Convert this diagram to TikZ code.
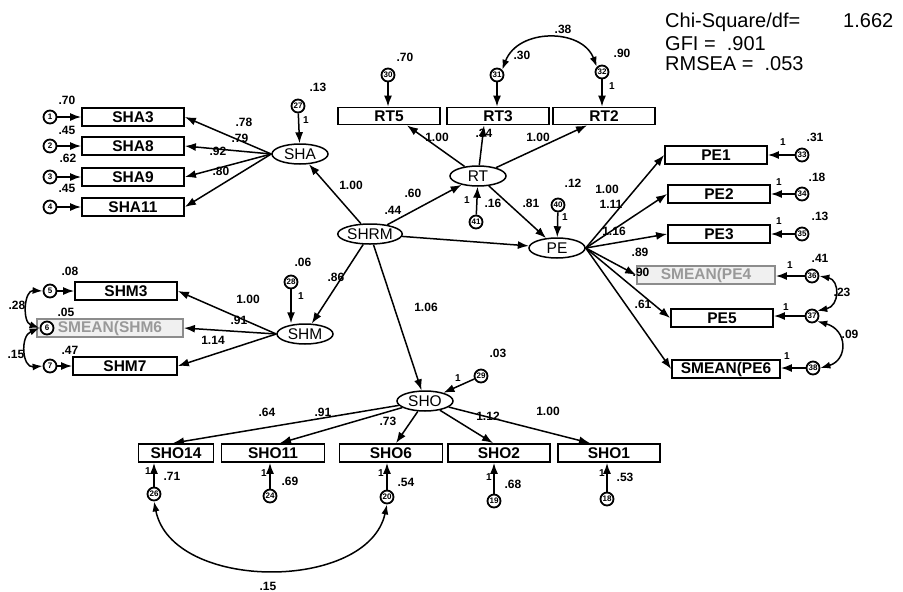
\documentclass[tikz,border=0pt]{standalone}
\usepackage{fontspec}
\setmainfont{Liberation Sans}
\usetikzlibrary{arrows.meta,shapes.geometric}
\begin{document}
\begin{tikzpicture}[x=1pt,y=-1pt,
  obs/.style={draw,rectangle,line width=1.8pt,minimum height=18pt,inner sep=0pt,font=\fontsize{15.5}{15.5}\selectfont\bfseries},
  fade/.style={obs,draw=black!45,fill=black!6,text=black!40},
  lat/.style={draw,ellipse,line width=1.5pt,minimum width=56pt,minimum height=20pt,inner sep=0pt,font=\fontsize{15.5}{15.5}\selectfont},
  err/.style={draw,circle,line width=1.8pt,minimum size=13pt,inner sep=0pt,fill=white,font=\fontsize{8}{8}\selectfont\bfseries},
  lbl/.style={inner sep=0pt,font=\fontsize{12}{12}\selectfont\bfseries},
  one/.style={inner sep=0pt,font=\fontsize{10}{10}\selectfont\bfseries},
  arr/.style={-{Latex[length=11pt,width=8pt]},line width=1.5pt},
  cov/.style={{Latex[length=10pt,width=7pt]}-{Latex[length=10pt,width=7pt]},line width=1.5pt},
  fitt/.style={inner sep=0pt,anchor=base west,font=\fontsize{20}{20}\selectfont}
]
\useasboundingbox (0,0) rectangle (903,592);

% fit statistics
\node[fitt] (chi) at (665,27) {Chi-Square/df=};
\node[fitt] (chiv) at (843,27) {1.662};
\node[fitt] (gfi) at (665,50) {GFI = \ .901};
\node[fitt] (rmsea) at (665,70) {RMSEA = \ .053};

% latent variables
\node[lat] (shrm) at (370,234) {SHRM};
\node[lat] (sha) at (300,154) {SHA};
\node[lat] (shm) at (305,334) {SHM};
\node[lat] (rt) at (478,176) {RT};
\node[lat] (pe) at (557,248) {PE};
\node[lat] (sho) at (425,401) {SHO};

% SHA block
\node[obs,minimum width=102pt] (sha3) at (133,117) {SHA3};
\node[obs,minimum width=102pt] (sha8) at (133,146) {SHA8};
\node[obs,minimum width=102pt] (sha9) at (133,177) {SHA9};
\node[obs,minimum width=102pt] (sha11) at (133,207) {SHA11};
\node[err] (e1) at (50,117) {1};
\node[err] (e2) at (50,146) {2};
\node[err] (e3) at (50,177) {3};
\node[err] (e4) at (50,207) {4};
\node[err] (e27) at (298,106) {27};
\foreach \e/\b in {e1/sha3,e2/sha8,e3/sha9,e4/sha11} \draw[arr] (\e) -- (\b);
\foreach \b in {sha3,sha8,sha9,sha11} \draw[arr] (sha.west) -- (\b.east);
\draw[arr] (e27) -- (sha);
\node[lbl] (l1) at (67,100) {.70};
\node[lbl] (l2) at (67,130) {.45};
\node[lbl] (l3) at (68,158) {.62};
\node[lbl] (l4) at (67,188) {.45};
\node[lbl] (l5) at (244,122) {.78};
\node[lbl] (l6) at (240,138) {.79};
\node[lbl] (l7) at (218,151) {.92};
\node[lbl] (l8) at (221,171) {.80};
\node[lbl] (l9) at (318,87) {.13};
\node[one] (l10) at (306,120) {1};

% RT block
\node[obs,minimum width=102pt,minimum height=17pt] (rt5) at (389,116) {RT5};
\node[obs,minimum width=102pt,minimum height=17pt] (rt3) at (498,116) {RT3};
\node[obs,minimum width=102pt,minimum height=17pt] (rt2) at (604,116) {RT2};
\node[err] (e30) at (388,75) {30};
\node[err] (e31) at (497,75) {31};
\node[err] (e32) at (602,72) {32};
\node[err] (e41) at (476,222) {41};
\draw[arr] (e30) -- (e30 |- rt5.north);
\draw[arr] (e31) -- (e31 |- rt3.north);
\draw[arr] (e32) -- (e32 |- rt2.north);
\draw[cov] (e31.north east) .. controls (518,28) and (582,28) .. (e32.north west);
\draw[arr] (rt) -- ([xshift=18pt]rt5.south);
\draw[arr] (rt) -- ([xshift=-14pt]rt3.south);
\draw[arr] (rt) -- ([xshift=-17pt]rt2.south);
\draw[arr] (e41) -- (rt);
\node[lbl] (l11) at (405,57) {.70};
\node[lbl] (l12) at (522,55) {.30};
\node[lbl] (l13) at (622,53) {.90};
\node[lbl] (l14) at (563,29) {.38};
\node[one] (l15) at (612,86) {1};
\node[lbl] (l16) at (437,137) {1.00};
\node[lbl] (l17) at (484,133) {.34};
\node[lbl] (l18) at (538,137) {1.00};
\node[lbl] (l19) at (493,203) {.16};
\node[one] (l20) at (467,200) {1};

% structural paths
\draw[arr] (shrm) -- (sha);
\draw[arr] (shrm) -- (rt);
\draw[arr] (shrm) -- (pe);
\draw[arr] (shrm) -- (shm);
\draw[arr] (shrm) -- (sho);
\draw[arr] (rt) -- (pe);
\node[lbl] (l21) at (351,185) {1.00};
\node[lbl] (l22) at (413,193) {.60};
\node[lbl] (l23) at (393,210) {.44};
\node[lbl] (l24) at (336,277) {.86};
\node[lbl] (l25) at (426,307) {1.06};
\node[lbl] (l26) at (531,203) {.81};

% PE block
\node[obs,minimum width=102pt] (pe1) at (716,155) {PE1};
\node[obs,minimum width=102pt] (pe2) at (719,194) {PE2};
\node[obs,minimum width=102pt] (pe3) at (719,234) {PE3};
\node[fade,minimum width=138pt] (pe4) at (706,275) {SMEAN(PE4};
\node[obs,minimum width=102pt] (pe5) at (722,318) {PE5};
\node[obs,minimum width=108pt] (pe6) at (726,369) {SMEAN(PE6};
\node[err] (e40) at (558,205) {40};
\node[err] (e33) at (802,155) {33};
\node[err] (e34) at (802,194) {34};
\node[err] (e35) at (802,234) {35};
\node[err] (e36) at (812,276) {36};
\node[err] (e37) at (812,316) {37};
\node[err] (e38) at (813,368) {38};
\draw[arr] (e40) -- (pe);
\foreach \b in {pe1,pe2,pe3,pe4,pe5,pe6} \draw[arr] (pe.east) -- (\b.west);
\foreach \e/\b in {e33/pe1,e34/pe2,e35/pe3,e36/pe4,e37/pe5,e38/pe6} \draw[arr] (\e) -- (\e -| \b.east);
\draw[cov] (e36.east) .. controls (840,280) and (840,306) .. (e37.north east);
\draw[cov] (e37.south east) .. controls (848,330) and (848,360) .. (e38.east);
\node[lbl] (l27) at (573,183) {.12};
\node[one] (l28) at (565,217) {1};
\node[lbl] (l29) at (607,189) {1.00};
\node[lbl] (l30) at (611,204) {1.11};
\node[lbl] (l31) at (614,231) {1.16};
\node[lbl] (l32) at (640,252) {.89};
\node[lbl] (l33) at (641,272) {.90};
\node[lbl] (l34) at (643,304) {.61};
\node[lbl] (l35) at (815,137) {.31};
\node[lbl] (l36) at (817,177) {.18};
\node[lbl] (l37) at (820,216) {.13};
\node[lbl] (l38) at (820,258) {.41};
\node[lbl] (l39) at (842,292) {.23};
\node[lbl] (l40) at (850,334) {.09};
\node[one] (l41) at (783,142) {1};
\node[one] (l42) at (779,182) {1};
\node[one] (l43) at (779,221) {1};
\node[one] (l44) at (790,265) {1};
\node[one] (l45) at (786,307) {1};
\node[one] (l46) at (787,356) {1};

% SHM block
\node[obs,minimum width=102pt] (shm3) at (126,291) {SHM3};
\node[fade,minimum width=146pt] (shm6) at (110,328) {SMEAN(SHM6};
\node[obs,minimum width=104pt] (shm7) at (125,366) {SHM7};
\node[err] (e28) at (291,282) {28};
\node[err] (e5) at (50,291) {5};
\node[err] (e6) at (47,328) {6};
\node[err] (e7) at (50,366) {7};
\draw[arr] (e28) -- (e28 |- shm.north);
\foreach \b in {shm3,shm6,shm7} \draw[arr] (shm.west) -- (\b.east);
\draw[arr] (e5) -- (shm3);
\draw[arr] (e7) -- (shm7);
\draw[cov] (e5.west) .. controls (24,290) and (22,322) .. (e6.west);
\draw[cov] (e6.west) .. controls (20,336) and (22,368) .. (e7.west);
\node[lbl] (l47) at (303,262) {.06};
\node[one] (l48) at (301,296) {1};
\node[lbl] (l49) at (248,299) {1.00};
\node[lbl] (l50) at (239,320) {.91};
\node[lbl] (l51) at (213,340) {1.14};
\node[lbl] (l52) at (70,271) {.08};
\node[lbl] (l53) at (17,305) {.28};
\node[lbl] (l54) at (66,312) {.05};
\node[lbl] (l55) at (70,350) {.47};
\node[lbl] (l56) at (16,354) {.15};

% SHO block
\node[obs,minimum width=75pt] (sho14) at (176,453) {SHO14};
\node[obs,minimum width=103pt] (sho11) at (273,453) {SHO11};
\node[obs,minimum width=103pt] (sho6) at (391,453) {SHO6};
\node[obs,minimum width=102pt] (sho2) at (499,453) {SHO2};
\node[obs,minimum width=102pt] (sho1) at (609,453) {SHO1};
\node[err] (e29) at (481,376) {29};
\node[err] (e26) at (154,494) {26};
\node[err] (e24) at (270,496) {24};
\node[err] (e20) at (387,497) {20};
\node[err] (e19) at (494,501) {19};
\node[err] (e18) at (607,499) {18};
\draw[arr] (e29) -- (sho);
\draw[arr] (sho) -- ([xshift=-3pt]sho14.north);
\draw[arr] (sho) -- ([xshift=7pt]sho11.north);
\draw[arr] (sho) -- ([xshift=5pt]sho6.north);
\draw[arr] (sho) -- ([xshift=-6pt]sho2.north);
\draw[arr] (sho) -- ([xshift=-19pt]sho1.north);
\foreach \e/\b in {e26/sho14,e24/sho11,e20/sho6,e19/sho2,e18/sho1} \draw[arr] (\e) -- (\e |- \b.south);
\draw[cov] (e26.south) .. controls (172,592) and (368,592) .. (e20.south);
\node[lbl] (l57) at (498,353) {.03};
\node[one] (l58) at (458,378) {1};
\node[lbl] (l59) at (267,412) {.64};
\node[lbl] (l60) at (323,412) {.91};
\node[lbl] (l61) at (388,421) {.73};
\node[lbl] (l62) at (488,416) {1.12};
\node[lbl] (l63) at (548,411) {1.00};
\node[lbl] (l64) at (172,476) {.71};
\node[lbl] (l65) at (290,481) {.69};
\node[lbl] (l66) at (406,482) {.54};
\node[lbl] (l67) at (513,484) {.68};
\node[lbl] (l68) at (625,477) {.53};
\node[one] (l69) at (148,471) {1};
\node[one] (l70) at (264,473) {1};
\node[one] (l71) at (381,473) {1};
\node[one] (l72) at (489,477) {1};
\node[one] (l73) at (602,473) {1};
\node[lbl] (l74) at (268,586) {.15};
\end{tikzpicture}
\end{document}
